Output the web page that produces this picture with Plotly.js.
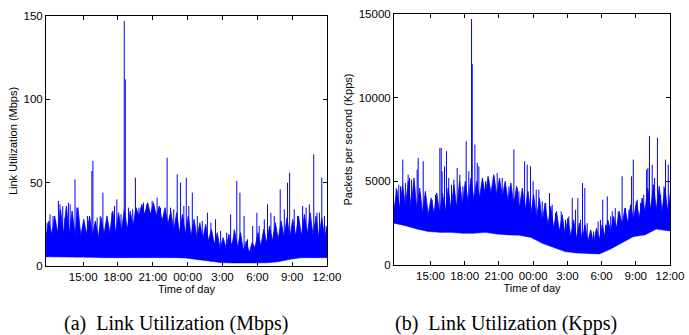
<!DOCTYPE html>
<html><head><meta charset="utf-8">
<script src="https://cdn.plot.ly/plotly-3.0.1.min.js"></script>
<style>html,body{margin:0;padding:0;background:#fff}#chart{width:689px;height:335px}</style>
</head><body><div id="chart"></div>
<script>
// Hours after 12:00 of day 1
const tickHours = [3, 6, 9, 12, 15, 18, 21, 24];
const tickLabels = ['15:00', '18:00', '21:00', '00:00', '3:00', '6:00', '9:00', '12:00'];
const gridStart = -0.2;
const topStep = 0.25;
const lowStep = 1;

// (a) Link utilization, Mbps
const mbpsTicks = [0, 50, 100, 150];
const mbpsTickText = ['0', '50', '100', '150'];
const mbpsLow = [5.5, 5.5, 5.3, 5.2, 5.2, 5.0, 5.0, 5.0, 5.2, 5.4, 5.3, 5.0, 4.8, 3.8, 2.8, 2.1, 1.8, 1.8, 1.8, 1.9, 2.5, 4.0, 5.0, 5.0, 5.0, 5.0];
// dense band top, alternating trough / crest every quarter hour
const mbpsTop = [
  18, 27, 19, 30,  20, 34, 19, 36,  19, 33, 18, 35,  18, 28, 19, 30,
  18, 27, 17, 29,  19, 30, 20, 33,  20, 32, 21, 34,  22, 33, 24, 35,
  30, 37, 31, 38,  31, 38, 30, 36,  27, 35, 25, 33,  21, 32, 20, 31,
  19, 30, 18, 28,  17, 26, 16, 25,  15, 22, 13, 20,  10, 17, 11, 19,
  12, 21, 11, 20,   9, 15,  8, 14,  11, 20, 12, 22,  14, 24, 15, 26,
  16, 27, 17, 29,  17, 28, 18, 30,  18, 31, 19, 32,  18, 30, 17, 29,
  17, 25];
const mbpsSpikeTime = [-0.1, 0.15, 0.4, 0.6, 0.87, 1.0, 1.24, 1.44, 1.73, 1.88, 2.3, 2.45, 3.37, 3.75, 3.84, 4.2, 4.47, 4.7, 5.05, 5.48, 5.7, 5.9, 6.26, 6.54, 6.63, 6.9, 7.27, 7.5, 7.8, 8.2, 8.5, 8.94, 9.37, 9.66, 10.23, 10.52, 10.8, 11.1, 11.39, 11.67, 11.88, 12.1, 12.4, 12.83, 13.26, 13.7, 14.0, 14.4, 14.84, 15.36, 15.7, 16.0, 16.23, 16.5, 16.86, 17.15, 17.6, 17.96, 18.16, 18.6, 18.88, 19.17, 19.46, 19.97, 20.32, 20.6, 20.78, 21.18, 21.47, 21.9, 22.2, 22.48, 22.86, 23.14, 23.35, 23.55, 23.78, 23.92];
const mbpsSpikePeak = [26, 31, 30, 27, 39, 37, 36, 29, 38, 37, 52, 35, 30, 57, 63, 29, 30, 44, 25, 32, 36, 40, 31, 147, 112, 35, 34, 53, 35, 38, 37, 39, 41, 35, 65, 35, 34, 55, 50, 36, 53, 36, 44, 30, 27, 32, 26, 28, 21, 20, 31, 22, 51, 44, 30, 16, 24, 32, 24, 28, 37, 32, 30, 46, 34, 50, 56, 34, 30, 36, 35, 37, 67, 32, 32, 53, 30, 24];

// (b) Link utilization, Kpps
const kppsTicks = [0, 5000, 10000, 15000];
const kppsTickText = ['0', '5000', '10000', '15000'];
const kppsLow = [2500, 2350, 2150, 2000, 1950, 1950, 1900, 1900, 1950, 1850, 1800, 1780, 1650, 1300, 1050, 800, 720, 670, 660, 950, 1350, 1700, 1800, 2150, 2050, 2050];
const kppsTop = [
  3300, 4500, 3400, 4800,  3500, 5000, 3400, 5200,  3300, 4600, 3100, 4400,  3000, 4000, 3100, 4300,
  3100, 4300, 3200, 4600,  3300, 4800, 3400, 5000,  3600, 5000, 3700, 5200,  3900, 5000, 4000, 5200,
  4200, 5300, 4300, 5400,  4200, 5200, 4100, 5000,  3800, 4900, 3600, 4700,  3400, 4600, 3300, 4400,
  3000, 4200, 2800, 4000,  2600, 3700, 2400, 3500,  2200, 3200, 2000, 3000,  1800, 2800, 1700, 2700,
  1600, 2500, 1500, 2400,  1400, 2100, 1300, 2200,  1500, 2400, 1700, 2700,  2000, 2900, 2200, 3200,
  2400, 3400, 2500, 3600,  2700, 3800, 2800, 4000,  3200, 4600, 3300, 4800,  3300, 4700, 3200, 4600,
  3200, 4400];
const kppsSpikeTime = [-0.01, 0.22, 0.37, 0.57, 0.8, 1.04, 1.16, 1.33, 1.54, 1.83, 1.92, 2.12, 2.36, 2.56, 3.15, 3.44, 3.82, 3.94, 4.02, 4.23, 4.4, 4.6, 4.84, 5.05, 5.34, 5.57, 5.84, 6.13, 6.36, 6.6, 6.66, 6.89, 7.1, 7.24, 7.53, 7.82, 8.1, 8.55, 8.85, 9.29, 9.58, 9.87, 10.31, 10.6, 10.75, 11.25, 11.48, 11.77, 12.0, 12.27, 12.5, 12.8, 13.1, 13.44, 13.67, 13.96, 14.46, 14.84, 15.13, 15.43, 15.72, 15.92, 16.16, 16.33, 16.53, 16.74, 17.03, 17.3, 17.7, 17.9, 18.1, 18.35, 18.5, 18.8, 18.94, 19.2, 19.46, 19.8, 20.1, 20.4, 20.63, 20.78, 21.13, 21.42, 21.7, 21.95, 22.06, 22.2, 22.44, 22.65, 22.9, 23.18, 23.47, 23.61, 23.85];
const kppsSpikePeak = [4600, 4800, 4700, 6300, 4900, 5400, 5200, 5100, 4900, 5700, 6400, 4200, 6200, 3900, 3900, 4200, 7000, 7000, 5600, 5900, 6800, 5200, 4800, 5100, 5800, 5400, 4700, 7400, 5600, 14700, 12000, 7200, 6100, 5900, 4900, 5000, 5100, 5300, 5500, 5200, 4600, 4700, 6900, 4600, 4400, 6200, 6000, 5900, 5000, 4500, 4500, 3800, 3700, 4300, 3600, 3100, 3200, 2700, 2900, 4000, 3300, 4000, 2700, 4900, 4600, 2500, 1900, 2000, 2600, 2700, 3900, 2400, 4100, 2900, 3200, 3400, 3200, 5300, 3400, 3300, 5300, 6300, 3900, 3700, 4200, 5700, 5800, 7700, 6000, 5200, 7600, 4200, 4700, 6300, 6000];

const BLUE = '#0000ff';
function times(n, step) { const t = []; for (let i = 0; i < n; i++) t.push(gridStart + i * step); return t; }
function spikeXY(ts, peaks, low) {
  const x = [], y = [];
  ts.forEach((t, i) => {
    const k = Math.max(0, Math.min(low.length - 1, Math.floor((t - gridStart) / lowStep)));
    const k2 = Math.min(low.length - 1, k + 1);
    const base = Math.max(low[k], low[k2]);
    x.push(t, t, null); y.push(base, peaks[i], null);
  });
  return {x, y};
}
function panel(low, top, st, sp, xa, ya) {
  const s = spikeXY(st, sp, low);
  return [
    {type: 'scatter', mode: 'lines', x: times(low.length, lowStep), y: low, line: {color: BLUE, width: 0.5}, xaxis: xa, yaxis: ya, hoverinfo: 'skip', showlegend: false},
    {type: 'scatter', mode: 'lines', x: times(top.length, topStep), y: top, fill: 'tonexty', fillcolor: BLUE, line: {color: BLUE, width: 0.8}, xaxis: xa, yaxis: ya, hoverinfo: 'skip', showlegend: false},
    {type: 'scatter', mode: 'lines', x: s.x, y: s.y, line: {color: BLUE, width: 1}, xaxis: xa, yaxis: ya, hoverinfo: 'skip', showlegend: false}
  ];
}

const data = [].concat(
  panel(mbpsLow, mbpsTop, mbpsSpikeTime, mbpsSpikePeak, 'x', 'y'),
  panel(kppsLow, kppsTop, kppsSpikeTime, kppsSpikePeak, 'x2', 'y2')
);

const tickFont = {family: 'Liberation Sans, Arial, sans-serif', size: 11.5, color: '#000'};
const titleFont = {family: 'Liberation Sans, Arial, sans-serif', size: 11, color: '#000'};
function xAxis(dom, anchor) {
  return {domain: dom, anchor: anchor, range: [-0.2, 24], tickvals: tickHours, ticktext: tickLabels, ticks: 'inside', ticklen: 4,
    tickcolor: '#000', showline: true, linecolor: '#000', linewidth: 1, mirror: 'ticks', showgrid: false, zeroline: false,
    tickfont: tickFont, title: {text: 'Time of day', font: titleFont, standoff: 2}, automargin: false, fixedrange: true};
}
function yAxis(dom, rng, tv, tt, anchor, title) {
  return {domain: dom, range: rng, tickvals: tv, ticktext: tt, ticks: 'inside', ticklen: 4, tickcolor: '#000', showline: true,
    linecolor: '#000', linewidth: 1, mirror: 'ticks', showgrid: false, zeroline: false, tickfont: tickFont,
    anchor: anchor, title: {text: title, font: titleFont, standoff: 3}, automargin: false, fixedrange: true};
}

const W = 689, H = 335;
const capFont = {family: 'Liberation Serif, Times New Roman, serif', size: 20, color: '#000'};
const layout = {
  width: W, height: H, margin: {l: 0, r: 0, t: 0, b: 0}, paper_bgcolor: '#fff', plot_bgcolor: '#fff', showlegend: false,
  xaxis: xAxis([46 / W, 327 / W], 'y'),
  yaxis: yAxis([1 - 266 / H, 1 - 16 / H], [0, 150], mbpsTicks, mbpsTickText, 'x', 'Link Utilization (Mbps)'),
  xaxis2: xAxis([394 / W, 670 / W], 'y2'),
  yaxis2: yAxis([1 - 265 / H, 1 - 14 / H], [0, 15000], kppsTicks, kppsTickText, 'x2', 'Packets per second (Kpps)'),
  annotations: [
    {text: '(a)  Link Utilization (Mbps)', xref: 'paper', yref: 'paper', x: 176 / W, y: 1 - 323 / H, xanchor: 'center', yanchor: 'middle', showarrow: false, font: capFont},
    {text: '(b)  Link Utilization (Kpps)', xref: 'paper', yref: 'paper', x: 506 / W, y: 1 - 323 / H, xanchor: 'center', yanchor: 'middle', showarrow: false, font: capFont}
  ]
};
Plotly.newPlot('chart', data, layout, {staticPlot: true, displayModeBar: false});
</script></body></html>
